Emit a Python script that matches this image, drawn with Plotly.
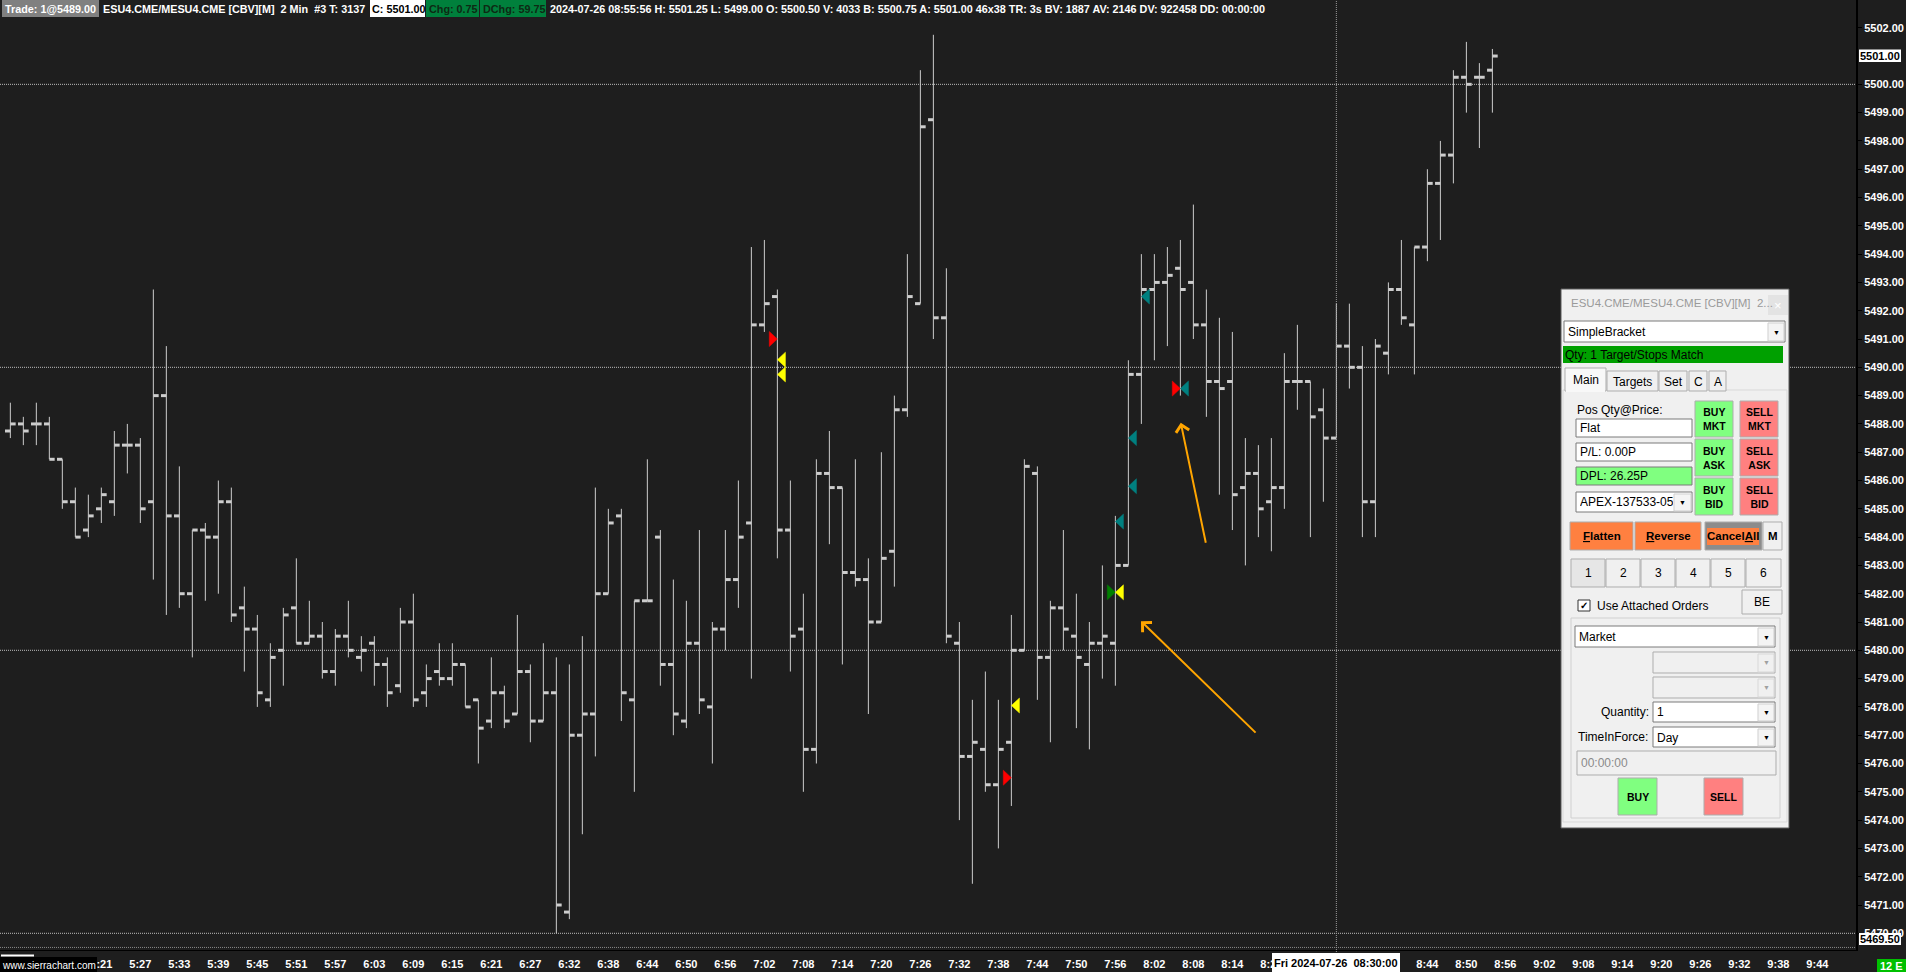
import plotly.graph_objects as go

# ---------------- data ----------------
bar_open = [5487.75, 5488.0, 5488.0, 5488.0, 5486.75, 5485.25, 5484.25, 5485.0, 5485.25, 5487.25,
            5487.25, 5485.25, 5489.0, 5484.75, 5482.0, 5484.25, 5484.0, 5485.25, 5481.5, 5480.75,
            5478.25, 5480.0, 5481.5, 5480.25, 5480.5, 5479.25, 5480.5, 5479.75, 5480.25, 5479.5,
            5478.75, 5481.0, 5478.5, 5479.25, 5479.0, 5479.5, 5478.25, 5477.5, 5478.5, 5477.75,
            5479.25, 5477.5, 5478.5, 5470.75, 5477.0, 5477.75, 5482.0, 5484.75, 5478.25, 5481.75,
            5484.0, 5479.5, 5477.5, 5480.25, 5478.0, 5480.75, 5482.5, 5484.5, 5491.5, 5492.5,
            5484.25, 5480.75, 5476.5, 5486.25, 5485.75, 5482.75, 5482.5, 5481.0, 5483.5, 5488.5,
            5492.25, 5498.75, 5491.75, 5480.25, 5476.25, 5476.5, 5475.25, 5476.75, 5480.0, 5486.25,
            5479.75, 5481.5, 5480.5, 5479.5, 5480.25, 5480.25, 5483.0, 5489.75, 5492.75, 5493.0,
            5493.5, 5493.0, 5491.5, 5489.5, 5489.5, 5485.75, 5486.25, 5485.25, 5485.75, 5489.5,
            5489.5, 5488.5, 5487.5, 5490.75, 5490.0, 5485.25, 5490.5, 5492.75, 5491.5, 5494.25,
            5496.5, 5497.5, 5500.25, 5500.25, 5500.5]
bar_high = [5488.75, 5488.25, 5488.75, 5488.25, 5486.75, 5485.75, 5485.5, 5485.75, 5487.75, 5488.0,
            5487.5, 5492.75, 5490.75, 5486.5, 5484.25, 5484.5, 5486.0, 5485.75, 5482.25, 5481.25,
            5480.25, 5481.5, 5483.25, 5481.75, 5481.0, 5480.75, 5481.75, 5480.5, 5480.5, 5479.75,
            5481.5, 5482.0, 5479.5, 5480.25, 5480.25, 5479.5, 5478.25, 5479.75, 5478.75, 5481.25,
            5479.5, 5480.25, 5479.75, 5479.5, 5480.5, 5485.75, 5485.0, 5485.0, 5481.75, 5486.75,
            5484.25, 5482.5, 5481.75, 5484.25, 5481.0, 5484.25, 5486.0, 5494.25, 5494.5, 5492.75,
            5486.0, 5482.0, 5486.75, 5487.75, 5485.75, 5486.75, 5483.25, 5487.0, 5489.0, 5494.0,
            5500.5, 5501.75, 5493.5, 5481.0, 5478.25, 5479.25, 5478.25, 5481.25, 5486.75, 5486.5,
            5481.75, 5484.25, 5482.0, 5481.0, 5483.0, 5484.75, 5490.25, 5494.0, 5494.0, 5494.25,
            5494.5, 5495.75, 5492.75, 5491.75, 5491.25, 5487.5, 5487.25, 5487.5, 5490.5, 5491.5,
            5489.5, 5489.25, 5492.25, 5492.25, 5490.75, 5491.0, 5493.0, 5494.5, 5494.25, 5497.0,
            5498.0, 5500.5, 5501.5, 5500.75, 5501.25]
bar_low = [5487.5, 5487.25, 5487.25, 5486.75, 5485.0, 5484.0, 5484.0, 5484.5, 5484.75, 5486.25,
           5484.5, 5482.5, 5481.25, 5481.5, 5479.75, 5481.75, 5482.0, 5481.0, 5479.25, 5478.0,
           5478.0, 5478.75, 5480.25, 5480.25, 5479.0, 5478.75, 5479.75, 5479.25, 5478.75, 5478.0,
           5478.5, 5478.0, 5478.0, 5478.75, 5478.75, 5478.0, 5476.0, 5477.25, 5477.25, 5477.75,
           5476.75, 5477.5, 5470.0, 5470.5, 5473.5, 5476.25, 5482.0, 5477.5, 5475.0, 5481.75,
           5478.75, 5477.0, 5477.25, 5477.75, 5476.0, 5480.0, 5481.5, 5479.0, 5491.25, 5483.25,
           5479.25, 5475.0, 5476.0, 5483.75, 5479.5, 5482.25, 5477.75, 5481.0, 5482.25, 5488.25,
           5492.25, 5491.0, 5480.25, 5474.0, 5471.75, 5475.0, 5473.0, 5474.5, 5480.0, 5478.25,
           5476.75, 5480.0, 5477.25, 5476.5, 5479.0, 5478.75, 5483.0, 5488.0, 5490.25, 5490.75,
           5489.0, 5491.0, 5488.25, 5485.5, 5484.25, 5483.0, 5484.0, 5483.5, 5485.0, 5488.5,
           5484.0, 5485.25, 5487.5, 5489.25, 5484.0, 5484.0, 5489.75, 5491.5, 5489.75, 5493.75,
           5494.5, 5496.5, 5499.0, 5497.75, 5499.0]
bar_close = [5488.0, 5487.75, 5488.0, 5486.75, 5485.25, 5484.0, 5484.75, 5485.5, 5487.25, 5487.25,
             5485.0, 5489.0, 5484.75, 5482.0, 5484.25, 5484.0, 5485.25, 5481.25, 5480.75, 5478.5,
             5479.75, 5481.25, 5480.25, 5480.5, 5479.25, 5480.5, 5480.0, 5480.0, 5479.5, 5478.5,
             5481.0, 5478.25, 5479.0, 5479.0, 5479.5, 5478.0, 5477.25, 5478.5, 5477.5, 5479.25,
             5477.5, 5478.5, 5471.0, 5477.0, 5477.75, 5482.0, 5484.5, 5478.5, 5481.75, 5481.75,
             5479.5, 5477.75, 5480.25, 5478.25, 5480.75, 5482.5, 5484.0, 5491.5, 5492.25, 5484.25,
             5480.5, 5476.5, 5486.25, 5485.75, 5482.75, 5482.5, 5481.0, 5483.25, 5488.5, 5492.5,
             5498.5, 5491.75, 5480.5, 5476.25, 5476.75, 5475.25, 5476.5, 5480.0, 5486.5, 5479.75,
             5481.5, 5480.75, 5479.75, 5480.25, 5480.5, 5483.0, 5489.75, 5492.75, 5493.0, 5493.25,
             5492.75, 5491.5, 5489.5, 5489.25, 5485.5, 5486.25, 5485.0, 5485.75, 5489.5, 5489.5,
             5488.25, 5487.5, 5490.75, 5490.0, 5485.25, 5490.75, 5492.75, 5491.75, 5494.25, 5496.5,
             5497.5, 5500.25, 5500.0, 5500.25, 5501.0]

time_tick_bars = [7, 10, 13, 16, 19, 22, 25, 28, 31, 34, 37, 40,
                  43, 46, 49, 52, 55, 58, 61, 64, 67, 70, 73, 76, 79, 82, 85, 88, 91, 94, 97,
                  109, 112, 115, 118, 121, 124, 127, 130, 133, 136, 139]
time_tick_labels = ["5:21", "5:27", "5:33", "5:39", "5:45", "5:51", "5:57", "6:03",
                    "6:09", "6:15", "6:21", "6:27", "6:32", "6:38", "6:44", "6:50", "6:56", "7:02",
                    "7:08", "7:14", "7:20", "7:26", "7:32", "7:38", "7:44", "7:50", "7:56", "8:02",
                    "8:08", "8:14", "8:20",
                    "8:44", "8:50", "8:56", "9:02",
                    "9:08", "9:14", "9:20", "9:26", "9:32", "9:38", "9:44"]

price_ticks = [5470, 5471, 5472, 5473, 5474, 5475, 5476, 5477, 5478, 5479, 5480, 5481, 5482,
               5483, 5484, 5485, 5486, 5487, 5488, 5489, 5490, 5491, 5492, 5493, 5494, 5495,
               5496, 5497, 5498, 5499, 5500, 5502]

# signal markers (tip position)
sig_bar = [59, 59, 59, 77, 77, 85, 85, 85, 86, 86, 87, 90, 90]
sig_price = [5491.0, 5490.27, 5489.75, 5478.05, 5475.5, 5482.05, 5482.05, 5484.55, 5485.8, 5487.5,
             5492.5, 5489.25, 5489.25]
sig_dir = ["right", "left", "left", "left", "right", "right", "left", "left", "left", "left",
           "left", "right", "left"]
sig_color = ["#ff0000", "#ffff00", "#ffff00", "#ffff00", "#ff0000", "#008000", "#ffff00",
             "#008080", "#008080", "#008080", "#008080", "#ff0000", "#008080"]

grid_prices = [5470, 5480, 5490, 5500]
last_price = 5501.0
cursor_price = 5469.5
cursor_bar = 102

# ---------------- geometry ----------------
W, H = 1906, 972
PLOT_R = 1856
PLOT_B = 950
X_MIN, X_MAX = -0.795, 141.97
Y_MIN, Y_MAX = 5469.41, 5502.98
BG = "#1e1e1e"
BAR_COL = "#cdcdcd"
CF = "Liberation Sans, Arial, sans-serif"
UI = "Liberation Sans, Arial, sans-serif"

def X(p):
    return p / W

def Y(p):
    return 1 - p / H

shapes = []
annots = []

def rect(x0, y0, x1, y1, fill, line=None, lw=1, layer="above"):
    shapes.append(dict(type="rect", xref="paper", yref="paper", x0=X(x0), x1=X(x1),
                       y0=Y(y1), y1=Y(y0), fillcolor=fill, layer=layer,
                       line=dict(color=line if line else fill, width=lw if line else 0)))

def hline_px(x0, x1, y, color, w=1):
    shapes.append(dict(type="line", xref="paper", yref="paper", x0=X(x0), x1=X(x1),
                       y0=Y(y), y1=Y(y), line=dict(color=color, width=w), layer="above"))

def text(x, y, s, size=11.5, color="black", family=UI, anchor="left", bold=False, **kw):
    annots.append(dict(xref="paper", yref="paper", x=X(x), y=Y(y), text=s, showarrow=False,
                       xanchor=anchor, yanchor="middle", borderpad=0,
                       font=dict(size=size, color=color, family=family,
                                 weight="bold" if bold else "normal"), **kw))

fig = go.Figure()

# ---------------- OHLC bars built from the data ----------------
TICK = 0.41
vx, vy, ox, oy, cx, cy = [], [], [], [], [], []
for i in range(len(bar_open)):
    vx += [i, i, None]
    vy += [bar_low[i], bar_high[i], None]
    ox += [i - TICK, i, None]
    oy += [bar_open[i], bar_open[i], None]
    cx += [i, i + TICK, None]
    cy += [bar_close[i], bar_close[i], None]

fig.add_trace(go.Scatter(x=vx, y=vy, mode="lines", line=dict(color=BAR_COL, width=1),
                         hoverinfo="skip", showlegend=False))
fig.add_trace(go.Scatter(x=ox, y=oy, mode="lines", line=dict(color=BAR_COL, width=3),
                         hoverinfo="skip", showlegend=False))
fig.add_trace(go.Scatter(x=cx, y=cy, mode="lines", line=dict(color=BAR_COL, width=3),
                         hoverinfo="skip", showlegend=False))

# signal triangles (tip at bar / price)
TW = 0.62
TH = 0.265
for b, p, d, c in zip(sig_bar, sig_price, sig_dir, sig_color):
    base = b - TW if d == "right" else b + TW
    fig.add_trace(go.Scatter(x=[base, b, base, base], y=[p + TH, p, p - TH, p + TH],
                             mode="lines", fill="toself", fillcolor=c,
                             line=dict(color=c, width=0.5), hoverinfo="skip",
                             showlegend=False))

# ---------------- grid & crosshair ----------------
for gp in grid_prices:
    shapes.append(dict(type="line", xref="paper", yref="y", x0=0, x1=X(PLOT_R), y0=gp, y1=gp,
                       line=dict(color="#bdbdbd", width=1, dash="1px,1px"), layer="below"))
shapes.append(dict(type="line", xref="paper", yref="y", x0=0, x1=X(PLOT_R),
                   y0=cursor_price, y1=cursor_price,
                   line=dict(color="#8a8a8a", width=1, dash="1px,1px"), layer="above"))
shapes.append(dict(type="line", xref="x", yref="paper", x0=cursor_bar, x1=cursor_bar,
                   y0=Y(952), y1=1, line=dict(color="#9a9a9a", width=1, dash="1px,1px"),
                   layer="above"))

# ---------------- orange arrows ----------------
for (hx, hy, tx, ty) in [(86.97, 5481.03, 95.9, 5477.04), (90.03, 5488.04, 91.98, 5483.75)]:
    annots.append(dict(x=hx, y=hy, ax=tx, ay=ty, xref="x", yref="y", axref="x", ayref="y",
                       text="", showarrow=True, arrowhead=4, arrowsize=1.3, arrowwidth=2,
                       arrowcolor="#ffa500"))

# ---------------- header ----------------
HY = 8.5
HF = 10.8
rect(2, 0, 99, 17, "#808080")
text(4, HY, "Trade: 1@5489.00", HF, "white", CF, bold=True)
text(102, HY, "ESU4.CME/MESU4.CME [CBV][M]&nbsp;&nbsp;2 Min&nbsp;&nbsp;#3 T: 3137", HF, "white", CF, bold=True)
rect(370, 0, 425, 17, "#ffffff")
text(371, HY, "C: 5501.00", HF, "black", CF, bold=True)
rect(426, 0, 479, 17, "#00803c")
text(428, HY, "Chg: 0.75", HF, "#0d2a14", CF, bold=True)
rect(480, 0, 546, 17, "#00803c")
text(482, HY, "DChg: 59.75", HF, "#0d2a14", CF, bold=True)
text(549, HY, "2024-07-26 08:55:56 H: 5501.25 L: 5499.00 O: 5500.50 V: 4033 B: 5500.75 "
              "A: 5501.00 46x38 TR: 3s BV: 1887 AV: 2146 DV: 922458 DD: 00:00:00",
     HF, "white", CF, bold=True)

# ---------------- axis label overlays ----------------
y_last = 84.3 - (last_price - 5500) * 28.3
rect(1859, y_last - 6.5, 1901, y_last + 6, "#ffffff")
text(1880, y_last, "5501.00", 11, "black", CF, anchor="center", bold=True)
rect(1859, 933, 1901, 945, "#ffffff")
text(1880, 939, "5469.50", 11, "black", CF, anchor="center", bold=True)
rect(1877, 959, 1906, 972, "#00c000")
text(1891.5, 965.5, "12 E", 11, "white", CF, anchor="center", bold=True)
rect(1272, 953, 1400, 972, "#ffffff")
text(1336, 962.5, "Fri 2024-07-26&nbsp;&nbsp;08:30:00", 11, "black", CF, anchor="center", bold=True)
rect(0, 957, 97, 972, "#000000")
hline_px(1, 34, 955.5, "#ffffff", 2)
text(1, 965, "www.sierrachart.com", 10, "white", CF)

# ---------------- trade window ----------------
GB = "#adadad"
rect(1561, 289, 1789, 828, "#f0f0f0", "#5a5a5a", 1)
text(1570, 303, "ESU4.CME/MESU4.CME [CBV][M]&nbsp;&nbsp;2...", 11.5, "#9a9a9a")
rect(1768, 295, 1788, 315, "#e3e3e3")
text(1778, 305, "×", 13, "white", anchor="center")
rect(1564, 321, 1785, 342, "#ffffff", "#7a7a7a")
text(1567, 332, "SimpleBracket", 12)
rect(1768, 323, 1784, 341, "#f4f4f4", "#cfcfcf")
text(1776, 332, "▼", 7, "black", anchor="center")
rect(1563, 346, 1783, 363, "#00a000")
text(1564, 355, "Qty: 1 Target/Stops Match", 12)
rect(1563, 390, 1787, 822, "#f0f0f0", "#d9d9d9")
rect(1607, 371, 1658, 391, "#f0f0f0", GB)
rect(1659, 371, 1687, 391, "#f0f0f0", GB)
rect(1689, 371, 1707, 391, "#f0f0f0", GB)
rect(1709, 371, 1726, 391, "#f0f0f0", GB)
rect(1565, 368, 1606, 391, "#f8f8f8", GB)
hline_px(1566, 1605, 391, "#f8f8f8", 2)
text(1585.5, 380, "Main", 12, anchor="center")
text(1632.5, 381.5, "Targets", 12, anchor="center")
text(1673, 381.5, "Set", 12, anchor="center")
text(1698, 381.5, "C", 12, anchor="center")
text(1717.5, 381.5, "A", 12, anchor="center")
text(1576, 410, "Pos Qty@Price:", 12)
rect(1576, 419, 1692, 437, "#ffffff", "#7a7a7a")
text(1579, 428, "Flat", 12)
rect(1576, 443, 1692, 461, "#ffffff", "#7a7a7a")
text(1579, 452, "P/L: 0.00P", 12)
rect(1576, 467, 1692, 485, "#80ff80", "#7a7a7a")
text(1579, 476, "DPL: 26.25P", 12)
rect(1576, 492, 1692, 512, "#ffffff", "#7a7a7a")
text(1579, 502, "APEX-137533-05", 12, width=93, align="left")
rect(1674, 494, 1691, 511, "#f4f4f4", "#cfcfcf")
text(1682.5, 502.5, "▼", 7, anchor="center")
for (x0, x1, fill, lab) in [(1695, 1733, "#80ff80", "BUY<br>MKT"), (1740, 1778, "#ff8080", "SELL<br>MKT")]:
    rect(x0, 401, x1, 437, fill, GB)
    text((x0 + x1) / 2, 419, lab, 10.5, anchor="center", bold=True)
for (x0, x1, fill, lab) in [(1695, 1733, "#80ff80", "BUY<br>ASK"), (1740, 1778, "#ff8080", "SELL<br>ASK")]:
    rect(x0, 439, x1, 476, fill, GB)
    text((x0 + x1) / 2, 457.5, lab, 10.5, anchor="center", bold=True)
for (x0, x1, fill, lab) in [(1695, 1733, "#80ff80", "BUY<br>BID"), (1740, 1778, "#ff8080", "SELL<br>BID")]:
    rect(x0, 478, x1, 515, fill, GB)
    text((x0 + x1) / 2, 496.5, lab, 10.5, anchor="center", bold=True)
rect(1570, 522, 1633, 550, "#ff8040", GB)
text(1601.5, 536, "<u>F</u>latten", 11.5, anchor="center", bold=True)
rect(1635, 522, 1701, 550, "#ff8040", GB)
text(1668, 536, "<u>R</u>everse", 11.5, anchor="center", bold=True)
rect(1705, 522, 1762, 550, "#8c8c8c", GB)
rect(1707, 528, 1759, 545, "#ff8040")
text(1733, 536, "Cancel<u>A</u>ll", 11.5, anchor="center", bold=True)
rect(1763, 522, 1782, 550, "#f0f0f0", GB)
text(1772.5, 536, "M", 11.5, anchor="center", bold=True)
for k, (x0, x1) in enumerate([(1571, 1605), (1606, 1640), (1641, 1675), (1676, 1710),
                              (1711, 1745), (1746, 1781)]):
    rect(x0, 559, x1, 587, "#e6e6e6" if k == 0 else "#f0f0f0", GB)
    text((x0 + x1) / 2, 573, str(k + 1), 12, anchor="center")
rect(1578, 600, 1590, 611, "#ffffff", "#333333")
text(1584, 605.5, "✓", 10, anchor="center", bold=True)
text(1596, 606, "Use Attached Orders", 12)
rect(1742, 590, 1782, 614, "#f0f0f0", GB)
text(1762, 602, "BE", 12, anchor="center")
rect(1571, 618, 1780, 818, "rgba(0,0,0,0)", "#d0d0d0")
rect(1575, 626, 1775, 647, "#ffffff", "#7a7a7a")
text(1578, 637, "Market", 12)
rect(1758, 628, 1774, 646, "#f4f4f4", "#cfcfcf")
text(1766, 637, "▼", 7, anchor="center")
for (y0, y1) in [(652, 673), (677, 698)]:
    rect(1653, y0, 1775, y1, "#f0f0f0", GB)
    rect(1758, y0 + 2, 1774, y1 - 1, "#f0f0f0", "#d8d8d8")
    text(1766, (y0 + y1) / 2, "▼", 7, "#a0a0a0", anchor="center")
text(1650, 712, "Quantity:", 12, anchor="right")
rect(1653, 702, 1775, 722, "#ffffff", "#7a7a7a")
text(1656, 712, "1", 12)
rect(1758, 704, 1774, 721, "#f4f4f4", "#cfcfcf")
text(1766, 712, "▼", 7, anchor="center")
text(1649, 737, "TimeInForce:", 12, anchor="right")
rect(1653, 727, 1775, 747, "#ffffff", "#7a7a7a")
text(1656, 738, "Day", 12)
rect(1758, 729, 1774, 746, "#f4f4f4", "#cfcfcf")
text(1766, 737, "▼", 7, anchor="center")
rect(1577, 751, 1776, 775, "#f0f0f0", GB)
text(1580, 763, "00:00:00", 12, "#8a8a8a")
rect(1618, 778, 1657, 815, "#80ff80", GB)
text(1637.5, 796.5, "BUY", 10.5, anchor="center", bold=True)
rect(1704, 778, 1743, 815, "#ff8080", GB)
text(1723.5, 796.5, "SELL", 10.5, anchor="center", bold=True)

# ---------------- layout ----------------
fig.update_layout(
    width=W, height=H,
    margin=dict(l=0, r=0, t=0, b=0),
    paper_bgcolor=BG, plot_bgcolor=BG,
    showlegend=False,
    shapes=shapes, annotations=annots,
    xaxis=dict(domain=[0, PLOT_R / W], range=[X_MIN, X_MAX], showgrid=False, zeroline=False,
               tickmode="array", tickvals=time_tick_bars, ticktext=time_tick_labels,
               ticks="", showline=True, linecolor="#000000", linewidth=1,
               tickfont=dict(family=CF, size=11, color="#ffffff", weight="bold"),
               ticklabelstandoff=4, automargin=False, fixedrange=True),
    yaxis=dict(domain=[(H - PLOT_B) / H, 1], range=[Y_MIN, Y_MAX], side="right",
               showgrid=False, zeroline=False, tickmode="array", tickvals=price_ticks,
               tickformat=".2f", ticks="outside", ticklen=4, tickcolor="#000000",
               showline=True, linecolor="#000000", linewidth=2,
               tickfont=dict(family=CF, size=11, color="#ffffff", weight="bold"),
               automargin=False, fixedrange=True),
)

fig.write_html("out.html", config={"displayModeBar": False},
               post_script="document.body.style.margin='0px';document.body.style.overflow='hidden';")
